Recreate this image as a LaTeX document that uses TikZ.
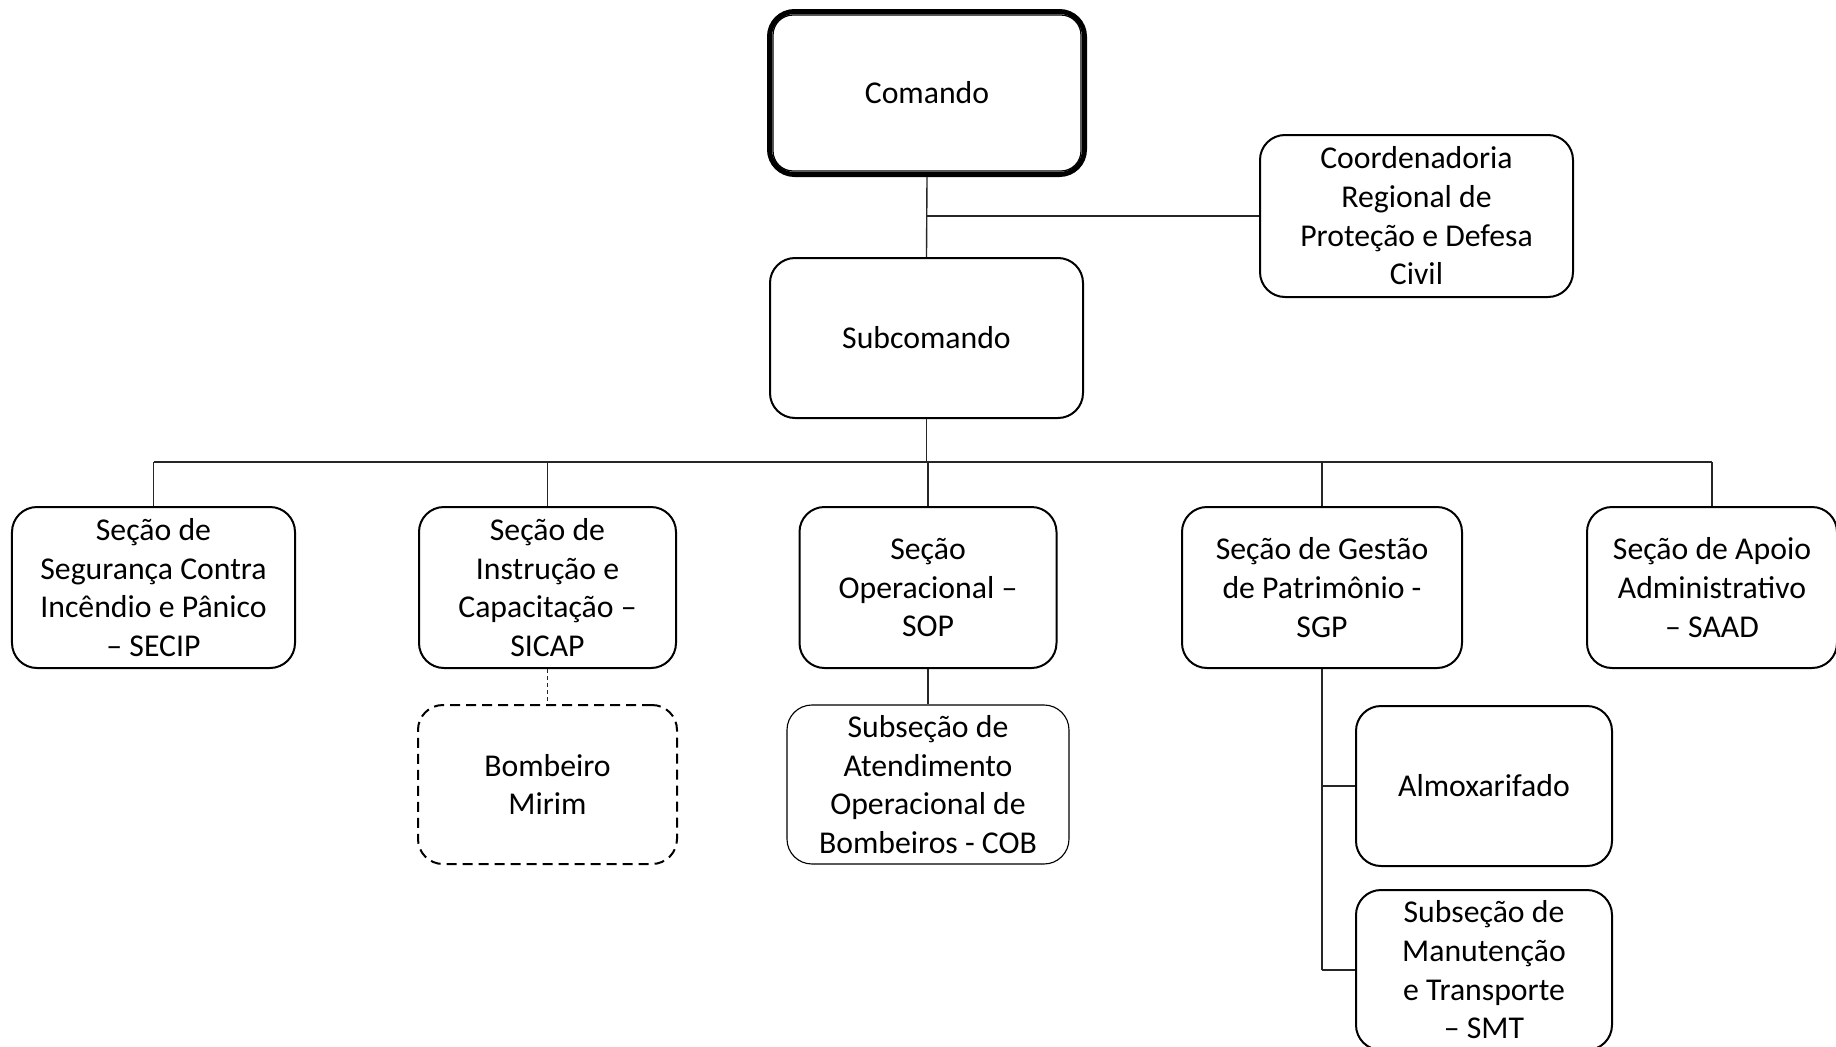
\documentclass[tikz,border=0pt]{standalone}
\usepackage{fontspec}
\setmainfont{Carlito}
\begin{document}
\begin{tikzpicture}[x=0.4pt,y=-0.4pt,
  box/.style={draw=black,line width=0.8pt,rounded corners=10pt,align=center,inner sep=0pt,
    font=\fontsize{12.7pt}{15.45pt}\selectfont,minimum height=64.4pt},
  conn/.style={line width=0.55pt,draw=black!85},
]
\useasboundingbox (0,0) rectangle (1836,1047);
% top
\node[box,line width=2pt,minimum width=126pt,minimum height=65.2pt] (comando) at (927,93) {Comando};
\draw[line width=0.5pt,rounded corners=8pt] ([shift={(2.4pt,2.4pt)}]comando.south west) rectangle ([shift={(-2.4pt,-2.4pt)}]comando.north east);
\node[box,minimum width=125.2pt,minimum height=64pt] (sub) at (926.5,338) {Subcomando};
\node[box,minimum width=125.2pt,minimum height=64.8pt] (coord) at (1416.5,216) {Coordenadoria\\Regional de\\Proteção e Defesa\\Civil};
% row
\node[box,minimum width=113.2pt] (secip) at (153.5,587.5) {Seção de\\Segurança Contra\\Incêndio e Pânico\\– SECIP};
\node[box,minimum width=102.8pt] (sicap) at (547.5,587.5) {Seção de\\Instrução e\\Capacitação –\\SICAP};
\node[box,minimum width=102.8pt] (sop) at (928,587.5) {Seção\\Operacional –\\SOP};
\node[box,minimum width=112pt] (sgp) at (1322,587.5) {Seção de Gestão\\de Patrimônio -\\SGP};
\node[box,minimum width=100pt] (saad) at (1712,587.5) {Seção de Apoio\\Administrativo\\– SAAD};
% lower
\node[box,dash pattern=on 4pt off 2.4pt,minimum width=103.6pt,minimum height=63.6pt] (bomb) at (547.5,784.5) {Bombeiro\\Mirim};
\node[box,line width=0.45pt,minimum width=112.8pt,minimum height=63.6pt] (cob) at (928,784.5) {Subseção de\\Atendimento\\Operacional de\\Bombeiros - COB};
\node[box,minimum width=102.4pt,minimum height=64pt] (almox) at (1484,786) {Almoxarifado};
\node[box,minimum width=102.4pt,minimum height=64pt] (smt) at (1484,970) {Subseção de\\Manutenção\\e Transporte\\– SMT};
% connectors
\coordinate (busL) at (153.5,462);
\coordinate (busR) at (1712,462);
\draw[conn] (comando.south) -- (sub.north);
\draw[conn] (coord.west) -- (coord.west -| comando.south);
\draw[conn] (sub.south) -- (sub.south |- busL);
\draw[conn] (busL) -- (busR);
\draw[conn] (secip.north) -- (secip.north |- busL);
\draw[conn] (sicap.north) -- (sicap.north |- busL);
\draw[conn] (sop.north) -- (sop.north |- busL);
\draw[conn] (sgp.north) -- (sgp.north |- busL);
\draw[conn] (saad.north) -- (busR);
\draw[conn,dash pattern=on 1.6pt off 1.2pt] (sicap.south) -- (bomb.north);
\draw[conn] (sop.south) -- (cob.north);
\draw[conn] (sgp.south) -- (sgp.south |- smt.west);
\draw[conn] (almox.west) -- (almox.west -| sgp.south);
\draw[conn] (smt.west) -- (smt.west -| sgp.south);
\end{tikzpicture}
\end{document}
